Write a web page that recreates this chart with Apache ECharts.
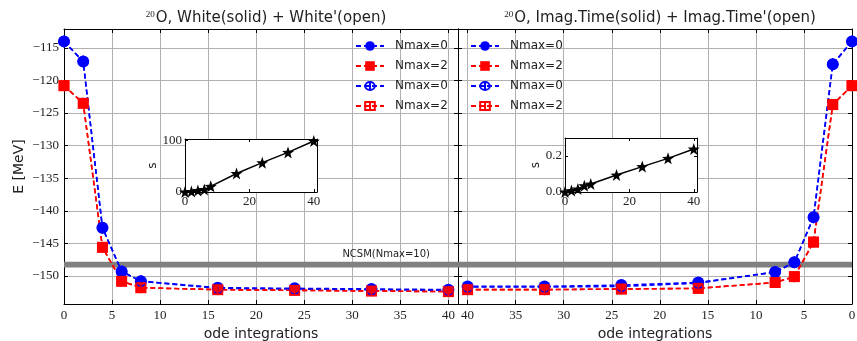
<!DOCTYPE html>
<html>
<head>
<meta charset="utf-8">
<script src="https://cdn.jsdelivr.net/npm/echarts@6/dist/echarts.min.js"></script>
<style>
  html, body { margin: 0; padding: 0; background: #fff; }
  #chart { width: 857px; height: 341px; }
</style>
</head>
<body>
<div id="chart"></div>
<script>
// number of ode integrations
const odeSteps = [0, 2, 4, 6, 8, 16, 24, 32, 40];

// White (solid) + White' (open), left panel
const whiteN0 = [-114.0, -117.1, -142.6, -149.3, -150.8, -151.8, -151.9, -152.0, -152.1];
const whiteN2 = [-120.8, -123.5, -145.6, -150.8, -151.8, -152.1, -152.2, -152.3, -152.4];
const whitePrimeN0 = [-114.0, -117.1, -142.6, -149.3, -150.8, -151.9, -152.0, -152.1, -152.2];
const whitePrimeN2 = [-120.8, -123.5, -145.6, -150.8, -151.8, -152.1, -152.2, -152.3, -152.4];

// Imag.Time (solid) + Imag.Time' (open), right panel
const imagN0 = [-114.0, -117.5, -141.0, -147.9, -149.4, -151.0, -151.4, -151.6, -151.6];
const imagN2 = [-120.8, -123.7, -144.8, -150.1, -151.0, -151.9, -152.0, -152.1, -152.1];
const imagPrimeN0 = [-114.0, -117.5, -141.0, -147.9, -149.4, -151.1, -151.6, -151.7, -151.7];
const imagPrimeN2 = [-120.8, -123.7, -144.8, -150.1, -151.0, -151.9, -152.0, -152.1, -152.1];

// run time (s) insets
const timeWhite = [0, 1, 3, 5, 11, 36, 57, 77, 99];
const timeImag = [0, 0.008, 0.017, 0.035, 0.044, 0.094, 0.141, 0.187, 0.239];

// NCSM(Nmax=10) reference band
const ncsmBand = [-148.7, -147.8];

const serif = 'Liberation Serif';
const sans = 'DejaVu Sans';
const BLUE = '#0000ff';
const RED = '#ff0000';

const starPath = 'path://M0,-10 L2.35,-3.24 L9.51,-3.09 L3.8,1.24 L5.88,8.09 L0,4 L-5.88,8.09 L-3.8,1.24 L-9.51,-3.09 L-2.35,-3.24 Z';
const openCircle = 'path://M0,-12 L0,12 M10,0 A10,10 0 1 1 -10,0 A10,10 0 1 1 10,0 Z';
const openSquare = 'path://M-10,-10 L10,-10 L10,10 L-10,10 Z M0,-12 L0,12';

function pairs(ys) {
    return odeSteps.map((x, i) => [x, ys[i]]);
}

function energySeries(name, ys, idx, color, symbol, open) {
    return {
        name: name,
        type: 'line',
        xAxisIndex: idx * 2,
        yAxisIndex: idx * 2,
        data: pairs(ys),
        symbol: symbol,
        symbolSize: symbol === 'rect' || symbol === openSquare ? 11 : 12,
        symbolKeepAspect: true,
        showAllSymbol: true,
        clip: true,
        lineStyle: { color: color, width: 1.6, type: [5, 3] },
        itemStyle: open
            ? { color: 'rgba(0,0,0,0)', borderColor: color, borderWidth: 1.3 }
            : { color: color },
        emphasis: { disabled: true },
        z: 3
    };
}

function timeSeries(ys, idx) {
    return {
        type: 'line',
        xAxisIndex: 4 + idx * 2,
        yAxisIndex: 4 + idx * 2,
        data: pairs(ys),
        symbol: starPath,
        symbolSize: 12,
        lineStyle: { color: '#000', width: 1.5 },
        itemStyle: { color: '#000' },
        z: 12
    };
}

function bandArea() {
    return {
        silent: true,
        itemStyle: { color: '#808080', opacity: 1 },
        data: [[{ yAxis: ncsmBand[0] }, { yAxis: ncsmBand[1] }]]
    };
}

const minus = v => String(v).replace('-', '\u2212');
const tickCommon = { inside: true, length: 4, lineStyle: { color: '#000' } };
const lineCommon = { onZero: false, lineStyle: { color: '#000', width: 1 } };
const splitCommon = { lineStyle: { color: '#b0b0b0', width: 1 } };

function mainX(gridIndex, inverse, top) {
    return {
        type: 'value', gridIndex: gridIndex, min: 0, max: 41, interval: 5,
        inverse: inverse, position: top ? 'top' : 'bottom',
        axisLine: lineCommon, axisTick: tickCommon,
        splitLine: { show: !top, ...splitCommon },
        axisLabel: { show: !top, showMaxLabel: false, margin: 5, color: '#222', fontFamily: serif, fontSize: 13 },
        name: top ? '' : 'ode integrations', nameLocation: 'middle', nameGap: 20,
        nameTextStyle: { fontFamily: sans, fontSize: 14, color: '#222' }
    };
}

function mainY(gridIndex, right, labels) {
    return {
        type: 'value', gridIndex: gridIndex, min: -154.3, max: -112.1, splitNumber: 8,
        position: right ? 'right' : 'left',
        axisLine: lineCommon, axisTick: tickCommon,
        splitLine: { show: !right, ...splitCommon },
        axisLabel: { show: labels, showMinLabel: false, showMaxLabel: false, margin: 5,
                     color: '#222', fontFamily: serif, fontSize: 13, formatter: minus },
        name: labels ? 'E [MeV]' : '', nameLocation: 'middle', nameGap: 38,
        nameTextStyle: { fontFamily: sans, fontSize: 14, color: '#222' }
    };
}

function insetX(gridIndex, top) {
    return {
        type: 'value', gridIndex: gridIndex, min: 0, max: 41, interval: 20,
        position: top ? 'top' : 'bottom', z: 10,
        axisLine: lineCommon, axisTick: { ...tickCommon, length: 3 },
        splitLine: { show: false },
        axisLabel: { show: !top, showMaxLabel: false, margin: 3, color: '#222', fontFamily: serif, fontSize: 13 }
    };
}

function insetY(gridIndex, right, max, interval, fmt, gap) {
    return {
        type: 'value', gridIndex: gridIndex, min: 0, max: max, interval: interval,
        position: right ? 'right' : 'left', z: 10,
        axisLine: lineCommon, axisTick: { ...tickCommon, length: 3 },
        splitLine: { show: false },
        axisLabel: { show: !right, showMaxLabel: false, margin: 3, color: '#222', fontFamily: serif, fontSize: 13, formatter: fmt },
        name: right ? '' : 's', nameLocation: 'middle', nameGap: gap,
        nameTextStyle: { fontFamily: sans, fontSize: 12, color: '#222' }
    };
}

const legendNames = ['Nmax=0', 'Nmax=2', "Nmax=0'", "Nmax=2'"];
function legendAt(left) {
    return {
        orient: 'vertical', left: left, top: 40, padding: 0,
        itemWidth: 28, itemHeight: 12, itemGap: 8,
        data: legendNames,
        formatter: n => n.replace("'", ''),
        textStyle: { fontFamily: sans, fontSize: 12, color: '#222', padding: [0, 0, 0, 6] },
        selectedMode: false
    };
}

function panelTitle(text, centre) {
    return {
        text: text, left: centre, top: 5, textAlign: 'center',
        textStyle: { fontFamily: sans, fontSize: 15, fontWeight: 'normal', color: '#222',
                     rich: { sup: { fontFamily: serif, fontSize: 9, verticalAlign: 'top', padding: [0, 1, 7, 0], color: '#222' } } }
    };
}

const gridBase = { outerBoundsMode: 'none', containLabel: false };

const chart = echarts.init(document.getElementById('chart'), null, { renderer: 'canvas' });

chart.setOption({
    animation: false,
    backgroundColor: '#fff',
    title: [
        panelTitle("{sup|20}O, White(solid) + White'(open)", 261),
        panelTitle("{sup|20}O, Imag.Time(solid) + Imag.Time'(open)", 655)
    ],
    legend: [legendAt(355), legendAt(470)],
    grid: [
        { ...gridBase, left: 64, top: 29, width: 394, height: 275 },
        { ...gridBase, left: 458, top: 29, width: 394, height: 275 },
        { ...gridBase, left: 185, top: 139, width: 132, height: 53, show: true, backgroundColor: '#fff', borderWidth: 0, z: 8 },
        { ...gridBase, left: 565, top: 138, width: 132, height: 54, show: true, backgroundColor: '#fff', borderWidth: 0, z: 8 }
    ],
    xAxis: [
        mainX(0, false, false), mainX(0, false, true),
        mainX(1, true, false), mainX(1, true, true),
        insetX(2, false), insetX(2, true),
        insetX(3, false), insetX(3, true)
    ],
    yAxis: [
        mainY(0, false, true), mainY(0, true, false),
        mainY(1, false, false), mainY(1, true, false),
        insetY(2, false, 103, 100, v => String(v), 24), insetY(2, true, 103, 100, v => String(v), 24),
        insetY(3, false, 0.3, 0.2, v => v.toFixed(1), 22), insetY(3, true, 0.3, 0.2, v => v.toFixed(1), 22)
    ],
    graphic: [
        { type: 'text', right: 427, top: 249, z: 20,
          style: { text: 'NCSM(Nmax=10)', fontFamily: sans, fontSize: 10, fill: '#222' } }
    ],
    series: [
        { ...energySeries('Nmax=0', whiteN0, 0, BLUE, 'circle', false), markArea: bandArea() },
        energySeries('Nmax=2', whiteN2, 0, RED, 'rect', false),
        energySeries("Nmax=0'", whitePrimeN0, 0, BLUE, openCircle, true),
        energySeries("Nmax=2'", whitePrimeN2, 0, RED, openSquare, true),
        { ...energySeries('Nmax=0', imagN0, 1, BLUE, 'circle', false), markArea: bandArea() },
        energySeries('Nmax=2', imagN2, 1, RED, 'rect', false),
        energySeries("Nmax=0'", imagPrimeN0, 1, BLUE, openCircle, true),
        energySeries("Nmax=2'", imagPrimeN2, 1, RED, openSquare, true),
        timeSeries(timeWhite, 0),
        timeSeries(timeImag, 1)
    ]
});
</script>
</body>
</html>
